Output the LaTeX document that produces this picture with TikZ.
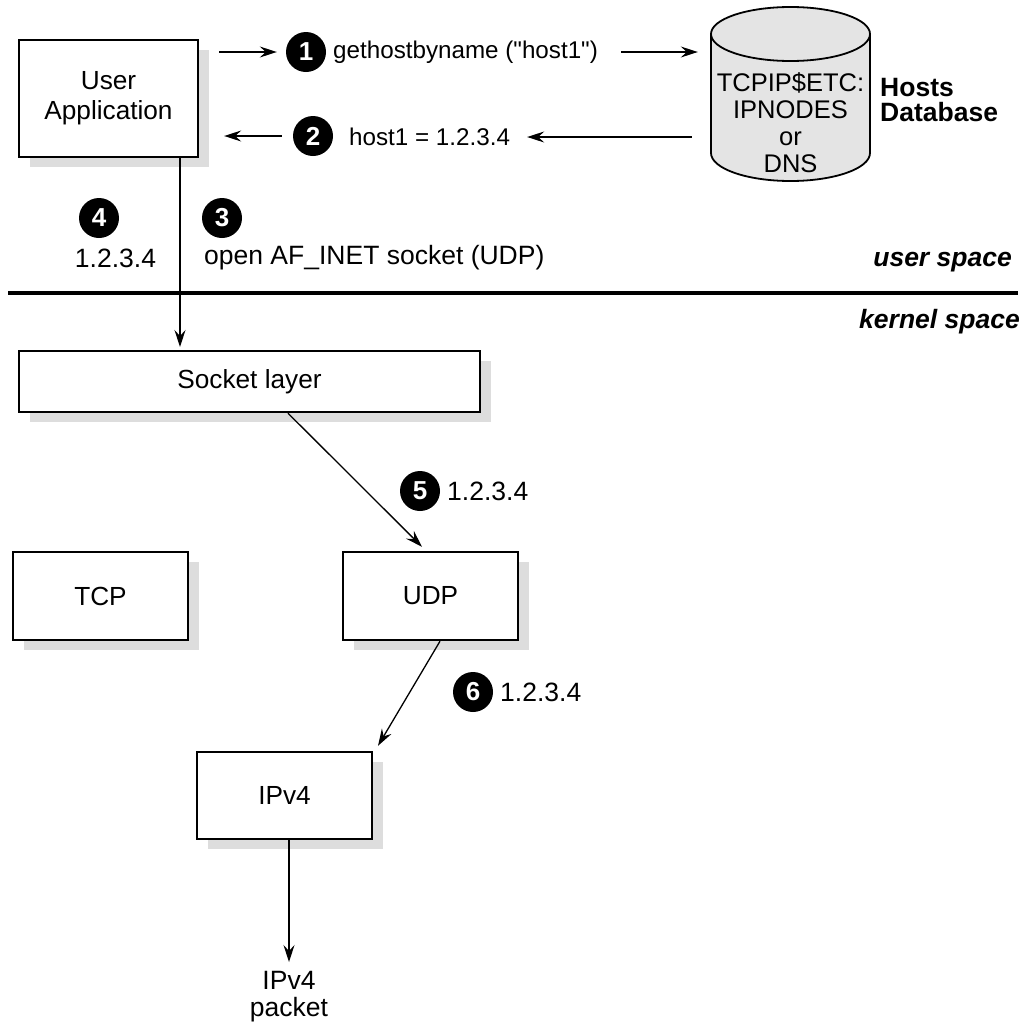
\documentclass[tikz,border=0pt]{standalone}
\usepackage{fontspec}
\setmainfont{Liberation Sans}[Ligatures=TeXOff]
\usetikzlibrary{arrows.meta,shadows}
\definecolor{shade}{HTML}{DDDDDD}
\definecolor{dbfill}{HTML}{E4E4E4}
\begin{document}
\begin{tikzpicture}[x=1pt,y=-1pt,
  txt/.style={font=\fontsize{26.5}{30}\selectfont, inner sep=0pt},
  small/.style={font=\fontsize{24.2}{27}\selectfont, inner sep=0pt},
  box/.style={draw, line width=2.4pt, fill=white, inner sep=0pt, align=center,
    font=\fontsize{26.2}{30}\selectfont,
    drop shadow={shadow xshift=11pt, shadow yshift=-10pt, fill=shade, opacity=1}},
  num/.style={circle, fill=black, text=white, inner sep=0pt, minimum size=40pt,
    font=\fontsize{26}{26}\selectfont\bfseries},
  arr/.style={line width=1.3pt, -{Stealth[length=17pt,width=11pt,inset=6pt]}},
  space/.style={font=\fontsize{26.5}{30}\selectfont\bfseries\itshape, inner sep=0pt, anchor=east},
]
\useasboundingbox (0,0) rectangle (1030,1023);

% boxes
\node[box, minimum width=179pt, minimum height=117pt] (app) at (108.5,98.5) {User\\Application};
\node[box, minimum width=461pt, minimum height=61pt] (sock) at (249.5,381.5) {Socket layer};
\node[box, minimum width=175pt, minimum height=88pt] (tcp) at (100.5,596) {TCP};
\node[box, minimum width=175pt, minimum height=88pt] (udp) at (430.5,596) {UDP};
\node[box, minimum width=175pt, minimum height=87pt] (ipv4) at (284.5,795.5) {IPv4};

% database cylinder
\path[draw, fill=dbfill, line width=1.8pt] (711,34) -- (711,153)
  arc[start angle=180, end angle=0, x radius=79.5, y radius=28] -- (870,34)
  arc[start angle=0, end angle=-180, x radius=79.5, y radius=27] -- cycle;
\draw[line width=1.8pt] (711,34) arc[start angle=180, end angle=0, x radius=79.5, y radius=27];
\node[inner sep=0pt, minimum width=159pt, minimum height=175pt] (db) at (790.5,94.5) {};
\node[txt, align=center, font=\fontsize{25.5}{27}\selectfont] (dbtext) at (790.5,123) {TCPIP\$ETC:\\IPNODES\\or\\DNS};
\node[txt, align=left, anchor=west, font=\fontsize{26.5}{25}\selectfont\bfseries] (hdb) at (880,100) {Hosts\\Database};

% step 1 and 2
\node[num] (c1) at (306,52) {1};
\node[small, anchor=west] (t1) at (333,52) {gethostbyname ("host1")};
\node[num] (c2) at (313,136) {2};
\node[small, anchor=west] (t2) at (349,137) {host1 = 1.2.3.4};
\draw[arr, shorten <=20pt, shorten >=9pt] (app.east |- c1.west) -- (c1.west);
\draw[arr, shorten <=23pt, shorten >=13pt] (t1.east) -- (db.west |- t1.east);
\draw[arr, shorten <=19pt, shorten >=17pt] (db.west |- t2.east) -- (t2.east);
\draw[arr, shorten <=11pt, shorten >=25pt] (c2.west) -- (app.east |- c2.west);

% step 3 and 4
\node[num] (c4) at (99,218) {4};
\node[txt] (t4) at (115.5,258) {1.2.3.4};
\node[num] (c3) at (222,218) {3};
\node[txt, anchor=west] (t3) at (204,258) {open AF\_INET socket (UDP)};

% separator
\draw[line width=4pt] (8,293) -- (1018,293);
\node[space] (us) at (1012,262) {user space};
\node[space] (ks) at (1020,322) {kernel space};

% app -> socket
\coordinate (sockin) at (180,347);
\draw[arr] (app.south -| sockin) -- (sockin);

% socket -> udp
\draw[arr] ([xshift=38.5pt]sock.south) -- ([xshift=-8.5pt,yshift=4pt]udp.north);
\node[num] (c5) at (420,491) {5};
\node[txt, anchor=west] (t5) at (447,491) {1.2.3.4};

% udp -> ipv4
\draw[arr] ([xshift=9.5pt]udp.south) -- ([xshift=93.5pt,yshift=5pt]ipv4.north);
\node[num] (c6) at (473,692) {6};
\node[txt, anchor=west] (t6) at (500,692) {1.2.3.4};

% ipv4 -> packet
\node[txt, align=center, font=\fontsize{26.5}{27}\selectfont] (pkt) at (289,997) {IPv4\\packet};
\coordinate (pktin) at (289,962);
\draw[arr] (ipv4.south -| pktin) -- (pktin);
\end{tikzpicture}
\end{document}
